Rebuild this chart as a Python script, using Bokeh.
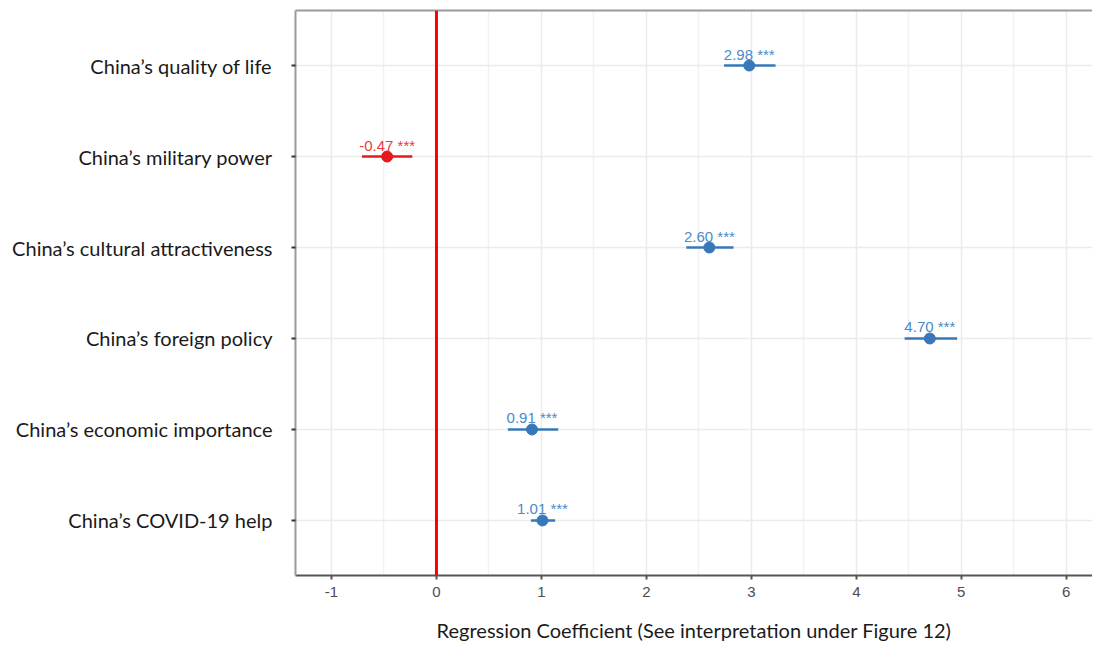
from bokeh.plotting import figure
from bokeh.models import (ColumnDataSource, Range1d, FactorRange, LinearAxis, FixedTicker, Span)
from bokeh.core.properties import value
from bokeh.embed import file_html
from bokeh.resources import INLINE

categories = ["China’s quality of life", "China’s military power",
              "China’s cultural attractiveness", "China’s foreign policy",
              "China’s economic importance", "China’s COVID-19 help"]
coef = [2.98, -0.47, 2.60, 4.70, 0.91, 1.01]
lower = [2.74, -0.71, 2.38, 4.46, 0.68, 0.90]
upper = [3.23, -0.23, 2.83, 4.96, 1.16, 1.13]
stars = ["***", "***", "***", "***", "***", "***"]
x_ticks = [-1, 0, 1, 2, 3, 4, 5, 6]
x_minor = [-0.5, 0.5, 1.5, 2.5, 3.5, 4.5, 5.5]

POS_LINE, NEG_LINE = "#3778b8", "#e41a1c"
POS_TEXT, NEG_TEXT = "#4a8bc9", "#eb3b3d"

src = ColumnDataSource(dict(
    cat=categories, coef=coef, lower=lower, upper=upper,
    label=[f"{c:.2f} {s}" for c, s in zip(coef, stars)],
    lc=[NEG_LINE if c < 0 else POS_LINE for c in coef],
    tc=[NEG_TEXT if c < 0 else POS_TEXT for c in coef],
))

p = figure(width=1092, height=645, output_backend="svg", toolbar_location=None,
           x_range=Range1d(-1.343, 6.25),
           y_range=FactorRange(*list(reversed(categories)), range_padding=0.035),
           min_border_left=295, min_border_right=0, min_border_top=10, min_border_bottom=70)
p.outline_line_color = None
p.background_fill_color = "white"

# grids
p.xgrid.ticker = FixedTicker(ticks=x_ticks, minor_ticks=x_minor)
p.xgrid.grid_line_color = "#ebebeb"
p.xgrid.grid_line_width = 1.5
p.xgrid.minor_grid_line_color = "#f2f2f2"
p.xgrid.minor_grid_line_width = 1.5
p.ygrid.grid_line_color = "#ebebeb"
p.ygrid.grid_line_width = 1.5

# x axis
xa = p.xaxis[0]
xa.ticker = FixedTicker(ticks=x_ticks)
xa.major_label_overrides = {t: str(t) for t in x_ticks}
xa.minor_tick_line_color = None
xa.axis_line_color = "#555555"
xa.axis_line_width = 2
xa.major_tick_line_color = "#555555"
xa.major_tick_line_width = 2
xa.major_tick_in = 0
xa.major_tick_out = 4
xa.major_label_standoff = 7
xa.major_label_text_font = "Liberation Sans"
xa.major_label_text_font_size = "15px"
xa.major_label_text_color = "#4d4d4d"
xa.axis_label = "Regression Coefficient (See interpretation under Figure 12)"
xa.axis_label_text_font = "Lato"
xa.axis_label_text_font_style = "normal"
xa.axis_label_text_font_size = "20px"
xa.axis_label_text_color = "#1a1a1a"
xa.axis_label_standoff = 18

# y axis
ya = p.yaxis[0]
ya.axis_line_color = "#9a9a9a"
ya.axis_line_width = 2
ya.major_tick_line_color = "#333333"
ya.major_tick_line_width = 2
ya.major_tick_in = 0
ya.major_tick_out = 4
ya.major_label_standoff = 19
ya.major_label_text_font = "Lato"
ya.major_label_text_font_size = "20px"
ya.major_label_text_color = "#1a1a1a"

# top border line
top = LinearAxis(ticker=FixedTicker(ticks=[]), axis_line_color="#9a9a9a", axis_line_width=2,
                 major_tick_line_color=None, minor_tick_line_color=None,
                 major_label_text_font_size="0px", major_label_standoff=0,
                 major_tick_out=0, major_tick_in=0)
p.add_layout(top, "above")

# zero line
p.add_layout(Span(location=0, dimension="height", line_color="#ff0000", line_width=3))

# error bars and points
p.segment(x0="lower", x1="upper", y0="cat", y1="cat", source=src, line_color="lc", line_width=2.5)
p.scatter(x="coef", y="cat", source=src, size=11, fill_color="lc", line_color="lc")
p.text(x="coef", y="cat", text="label", source=src, text_color="tc",
       text_align="center", text_baseline="bottom", y_offset=-3,
       text_font=value("Liberation Sans"), text_font_size="15px")

open("out.html", "w").write(file_html(p, INLINE))
